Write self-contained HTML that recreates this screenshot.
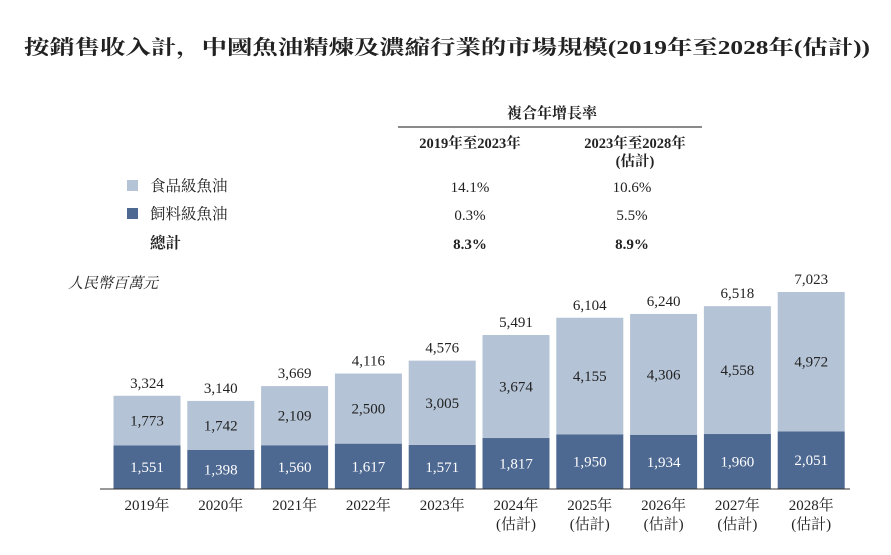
<!DOCTYPE html>
<html><head><meta charset="utf-8"><style>
body{margin:0;background:#fff;}
svg text{font-family:"Liberation Serif","Noto Serif CJK SC","Noto Sans CJK TC",serif;fill:#222;}
</style></head><body>
<svg id="chart" width="891" height="550">
<text x="24" y="54" font-size="20" font-weight="bold" textLength="846" lengthAdjust="spacingAndGlyphs">按銷售收入計，中國魚油精煉及濃縮行業的市場規模(2019年至2028年(估計))</text>
<g>
<text x="552" y="118" text-anchor="middle" font-size="15" font-weight="bold">複合年增長率</text>
<line x1="398" y1="127" x2="702" y2="127" stroke="#444" stroke-width="1.3"/>
<text x="470" y="148" text-anchor="middle" font-size="14.5" font-weight="bold">2019年至2023年</text>
<text x="635" y="148" text-anchor="middle" font-size="14.5" font-weight="bold">2023年至2028年</text>
<text x="635" y="166" text-anchor="middle" font-size="14.5" font-weight="bold">(估計)</text>
<rect x="127" y="180" width="11" height="11" fill="#b4c3d6"/>
<text x="150" y="191" font-size="15.5">食品級魚油</text>
<rect x="127" y="208" width="11" height="11" fill="#4d6891"/>
<text x="150" y="219" font-size="15.5">飼料級魚油</text>
<text x="150" y="248" font-size="15.5" font-weight="bold">總計</text>
<text x="470" y="192" text-anchor="middle" font-size="15">14.1%</text>
<text x="632" y="192" text-anchor="middle" font-size="15">10.6%</text>
<text x="470" y="220" text-anchor="middle" font-size="15">0.3%</text>
<text x="632" y="220" text-anchor="middle" font-size="15">5.5%</text>
<text x="470" y="249" text-anchor="middle" font-size="15" font-weight="bold">8.3%</text>
<text x="632" y="249" text-anchor="middle" font-size="15" font-weight="bold">8.9%</text>
</g>
<text x="68" y="288" font-size="15" font-style="italic">人民幣百萬元</text>
<g id="bars"></g>
<line x1="100" y1="489" x2="850" y2="489" stroke="#333" stroke-width="1"/>
</svg>
<script>
const years=["2019年","2020年","2021年","2022年","2023年","2024年","2025年","2026年","2027年","2028年"];
const estimated=[false,false,false,false,false,true,true,true,true,true];
const feedGrade=[1551,1398,1560,1617,1571,1817,1950,1934,1960,2051];
const foodGrade=[1773,1742,2109,2500,3005,3674,4155,4306,4558,4972];
const totals=[3324,3140,3669,4116,4576,5491,6104,6240,6518,7023];
const NS="http://www.w3.org/2000/svg";
const g=document.getElementById('bars');
const base=489, k=197/7023, x0=147, step=73.8, bw=67;
const y=v=>base-v*k;
const xc=i=>x0+i*step;
function mk(t,a){const e=document.createElementNS(NS,t);for(const n in a)e.setAttribute(n,a[n]);g.appendChild(e);return e;}
const fmt=v=>v.toLocaleString('en-US');
years.forEach((yr,i)=>{
  const c=xc(i);
  const f=feedGrade[i], o=foodGrade[i], t=f+o;
  let r=mk('rect',{x:c-bw/2,y:y(f),width:bw,height:base-y(f),fill:'#4d6891'});
  
  
  r=mk('rect',{x:c-bw/2,y:y(t),width:bw,height:y(f)-y(t),fill:'#b4c3d6'});
  
  
  let tx=mk('text',{x:c,y:(y(f)+base)/2+5,'text-anchor':'middle','font-size':15,style:'fill:#fff'});
  tx.textContent=fmt(f);
  
  
  tx=mk('text',{x:c,y:(y(t)+y(f))/2+5,'text-anchor':'middle','font-size':15});
  tx.textContent=fmt(o);
  
  
  tx=mk('text',{x:c,y:y(totals[i])-8,'text-anchor':'middle','font-size':15});
  tx.textContent=fmt(totals[i]);
  
  
  tx=mk('text',{x:c,y:510,'text-anchor':'middle','font-size':15});
  tx.textContent=yr;
  
  
  if(estimated[i]){
    tx=mk('text',{x:c,y:529,'text-anchor':'middle','font-size':15});
    tx.textContent='(估計)';
    
    
  }
});
</script>
</body></html>
